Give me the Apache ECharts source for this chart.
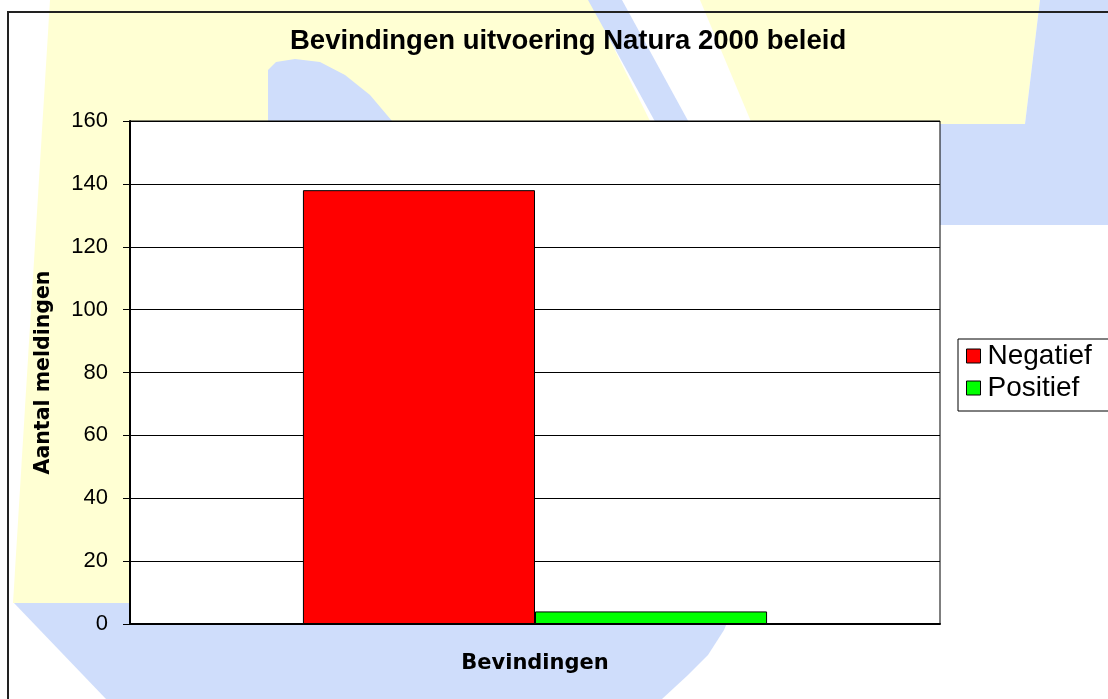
<!DOCTYPE html>
<html>
<head>
    <meta charset="utf-8">
    <title>Bevindingen uitvoering Natura 2000 beleid</title>
    <script src="https://cdn.jsdelivr.net/npm/echarts@6/dist/echarts.min.js"></script>
    <style>
        html, body { margin: 0; padding: 0; background: #fff; }
    </style>
</head>
<body>
<div id="main" style="width: 1108px;height:699px;"></div>
<script type="text/javascript">
  // data
  var categories = ['Bevindingen'];
  var negatief = [138];
  var positief = [4];
  var yTicks = [0, 20, 40, 60, 80, 100, 120, 140, 160];

  var yellow = '#FFFFD3';
  var blue = '#CFDDFB';

  // watermark shapes in the background (decoration only)
  var decor = [
    { type: 'polygon', z: -100, silent: true, shape: { points: [[50, 0], [590, 0], [650, 121], [650, 603], [13, 603]] }, style: { fill: yellow } },
    { type: 'polygon', z: -99, silent: true, shape: { points: [[268, 130], [268, 70], [276, 62], [295, 59], [320, 62], [345, 75], [370, 95], [392, 121], [400, 130]] }, style: { fill: blue } },
    { type: 'polygon', z: -100, silent: true, shape: { points: [[700, 0], [1040, 0], [1025, 124], [752, 124]] }, style: { fill: yellow } },
    { type: 'polygon', z: -100, silent: true, shape: { points: [[1040, 0], [1108, 0], [1108, 225], [745, 225], [722, 124], [1025, 124]] }, style: { fill: blue } },
    { type: 'polygon', z: -99, silent: true, shape: { points: [[588, 0], [622, 0], [745, 225], [712, 225]] }, style: { fill: blue } },
    { type: 'polygon', z: -100, silent: true, shape: { points: [[14, 603], [735, 603], [724, 630], [708, 655], [688, 675], [662, 699], [106, 699]] }, style: { fill: blue } },
    { type: 'rect', z: -50, silent: true, shape: { x: 8, y: 12, width: 1120, height: 700 }, style: { fill: null, stroke: '#222', lineWidth: 2 } }
  ];

  var myChart = echarts.init(document.getElementById('main'));

  var option = {
    backgroundColor: '#fff',
    animation: false,
    graphic: decor,
    title: {
      text: 'Bevindingen uitvoering Natura 2000 beleid',
      left: 290,
      top: 27,
      padding: 0,
      textStyle: {
        fontFamily: 'Liberation Sans',
        fontWeight: 'bold',
        fontSize: 27.5,
        color: '#000'
      }
    },
    legend: {
      orient: 'vertical',
      left: 958,
      top: 339,
      itemWidth: 14,
      itemHeight: 14,
      itemGap: 4,
      padding: [3, 60, 9, 8],
      backgroundColor: '#fff',
      borderColor: '#000',
      borderWidth: 1,
      borderRadius: 0,
      icon: 'rect',
      itemStyle: { borderColor: '#000', borderWidth: 1 },
      textStyle: {
        fontFamily: 'Liberation Sans',
        fontSize: 28,
        color: '#000',
        padding: [0, 0, 0, 2]
      },
      data: ['Negatief', 'Positief']
    },
    grid: {
      left: 130,
      top: 121,
      width: 810,
      height: 503,
      show: true,
      backgroundColor: '#fff',
      borderColor: '#000',
      borderWidth: 1
    },
    xAxis: {
      type: 'category',
      data: categories,
      name: 'Bevindingen',
      nameLocation: 'middle',
      nameGap: 29,
      nameTextStyle: {
        fontFamily: 'DejaVu Sans',
        fontWeight: 'bold',
        fontSize: 21,
        color: '#000'
      },
      axisLine: { show: true, lineStyle: { color: '#000', width: 2 } },
      axisTick: { show: false },
      axisLabel: { show: false }
    },
    yAxis: {
      type: 'value',
      min: yTicks[0],
      max: yTicks[yTicks.length - 1],
      interval: 20,
      name: 'Aantal meldingen',
      nameLocation: 'middle',
      nameRotate: 90,
      nameGap: 76,
      nameTextStyle: {
        fontFamily: 'DejaVu Sans',
        fontWeight: 'bold',
        fontSize: 20.5,
        color: '#000'
      },
      axisLine: { show: true, lineStyle: { color: '#000', width: 2 } },
      axisTick: { show: true, length: 7, lineStyle: { color: '#000', width: 1 } },
      axisLabel: {
        fontFamily: 'Liberation Sans',
        fontSize: 22,
        color: '#000',
        margin: 22
      },
      splitLine: { show: true, lineStyle: { color: '#000', width: 1 } }
    },
    series: [
      {
        name: 'Negatief',
        type: 'bar',
        data: negatief,
        barGap: '0%',
        barCategoryGap: '42.7%',
        itemStyle: { color: '#FF0000', borderColor: '#000', borderWidth: 1 }
      },
      {
        name: 'Positief',
        type: 'bar',
        data: positief,
        barGap: '0%',
        barCategoryGap: '42.7%',
        itemStyle: { color: '#00FF00', borderColor: '#000', borderWidth: 1 }
      }
    ]
  };
  myChart.setOption(option);
</script>
</body>
</html>
